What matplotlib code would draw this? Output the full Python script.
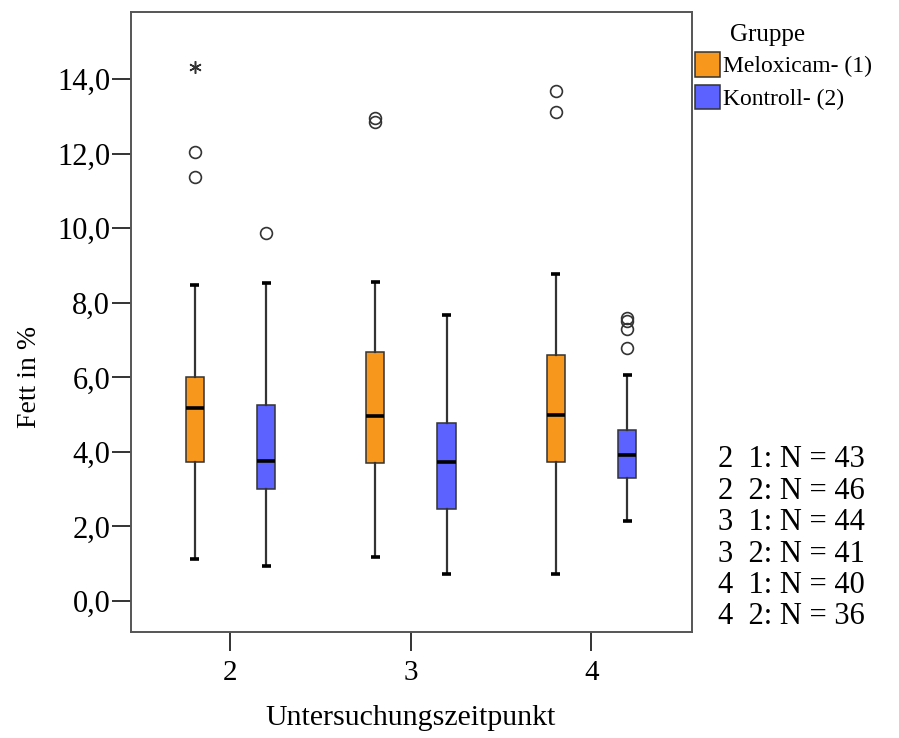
import matplotlib; matplotlib.use("Agg")
import matplotlib.pyplot as plt
from matplotlib.patches import Patch

plt.rcParams['font.family'] = ['Liberation Serif', 'DejaVu Serif']

# data (Fett in %)
zeitpunkte = ['2', '3', '4']
gruppen = ['Meloxicam- (1)', 'Kontroll- (2)']
farben = ['#F7981D', '#5B62FF']
# per time point: [Meloxicam, Kontroll]
q1     = [[3.72, 3.00], [3.69, 2.47], [3.74, 3.31]]
median = [[5.17, 3.77], [4.97, 3.74], [5.00, 3.92]]
q3     = [[6.02, 5.26], [6.67, 4.77], [6.60, 4.58]]
whislo = [[1.13, 0.93], [1.18, 0.72], [0.72, 2.14]]
whishi = [[8.47, 8.54], [8.56, 7.68], [8.77, 6.05]]
ausreisser = [[[11.38, 12.05], [9.86]],
              [[12.85, 12.97], []],
              [[13.12, 13.69], [6.78, 7.29, 7.52, 7.58]]]
extreme = [[[14.33], []], [[], []], [[], []]]
n_text = ['2  1: N = 43', '2  2: N = 46', '3  1: N = 44',
          '3  2: N = 41', '4  1: N = 40', '4  2: N = 36']
yticks = [0, 2, 4, 6, 8, 10, 12, 14]
ytick_labels = ['0,0', '2,0', '4,0', '6,0', '8,0', '10,0', '12,0', '14,0']

fig = plt.figure(figsize=(8.99, 7.38), dpi=100)
ax = fig.add_axes([131/899, 1-632/738, 561/899, 620/738])

off = [-0.197, 0.197]
dunkel = '#333333'
for i in range(len(zeitpunkte)):
    for g in range(2):
        pos = i + off[g]
        st = dict(q1=q1[i][g], med=median[i][g], q3=q3[i][g],
                  whislo=whislo[i][g], whishi=whishi[i][g], fliers=ausreisser[i][g])
        ax.bxp([st], positions=[pos], widths=0.1, patch_artist=True, showfliers=True,
               boxprops=dict(facecolor=farben[g], edgecolor=dunkel, linewidth=1.1),
               medianprops=dict(color='black', linewidth=2.6, solid_capstyle='butt'),
               whiskerprops=dict(color=dunkel, linewidth=1.6),
               capprops=dict(color='black', linewidth=2.6, solid_capstyle='butt'),
               capwidths=0.05,
               flierprops=dict(marker='o', markersize=8.5, markerfacecolor='none',
                               markeredgecolor=dunkel, markeredgewidth=1.2))
        if extreme[i][g]:
            ax.plot([pos]*len(extreme[i][g]), extreme[i][g], ls='none', marker=(6, 2, 0),
                    markersize=9, color=dunkel, markeredgewidth=1.1)

ax.set_xlim(-0.551, 2.557)
ax.set_ylim(-0.83, 15.80)
ax.set_xticks(range(len(zeitpunkte)))
ax.set_xticklabels(zeitpunkte, fontsize=21)
ax.set_yticks(yticks)
ax.set_yticklabels(ytick_labels, fontsize=22)
ax.tick_params(axis='both', direction='out', length=14, width=1.4, color=dunkel, pad=1)
ax.tick_params(axis='x', pad=6)
for s in ax.spines.values():
    s.set_color('#555555'); s.set_linewidth(1.4)

fig.text(30/899, 1-377/738, 'Fett in %', rotation=90, fontsize=20, ha='center', va='center')
fig.text(411/899, 1-718/738, 'Untersuchungszeitpunkt', fontsize=21.5, ha='center', va='center')

# legend
fig.text(768/899, 1-35/738, 'Gruppe', fontsize=18, ha='center', va='center')
handles = [Patch(facecolor=farben[g], edgecolor=dunkel, linewidth=1.1, label=gruppen[g]) for g in range(2)]
fig.legend(handles=handles, loc='upper left', bbox_to_anchor=(695/899, 1-52/738), frameon=False,
           fontsize=17, handlelength=1.05, handleheight=1.25, handletextpad=0.15,
           labelspacing=0.3, borderaxespad=0, borderpad=0)

for k, t in enumerate(n_text):
    fig.text(718/899, 1-(460 + 31.4*k)/738, t, fontsize=22, ha='left', va='center')

fig.savefig('out.png', dpi=100)
